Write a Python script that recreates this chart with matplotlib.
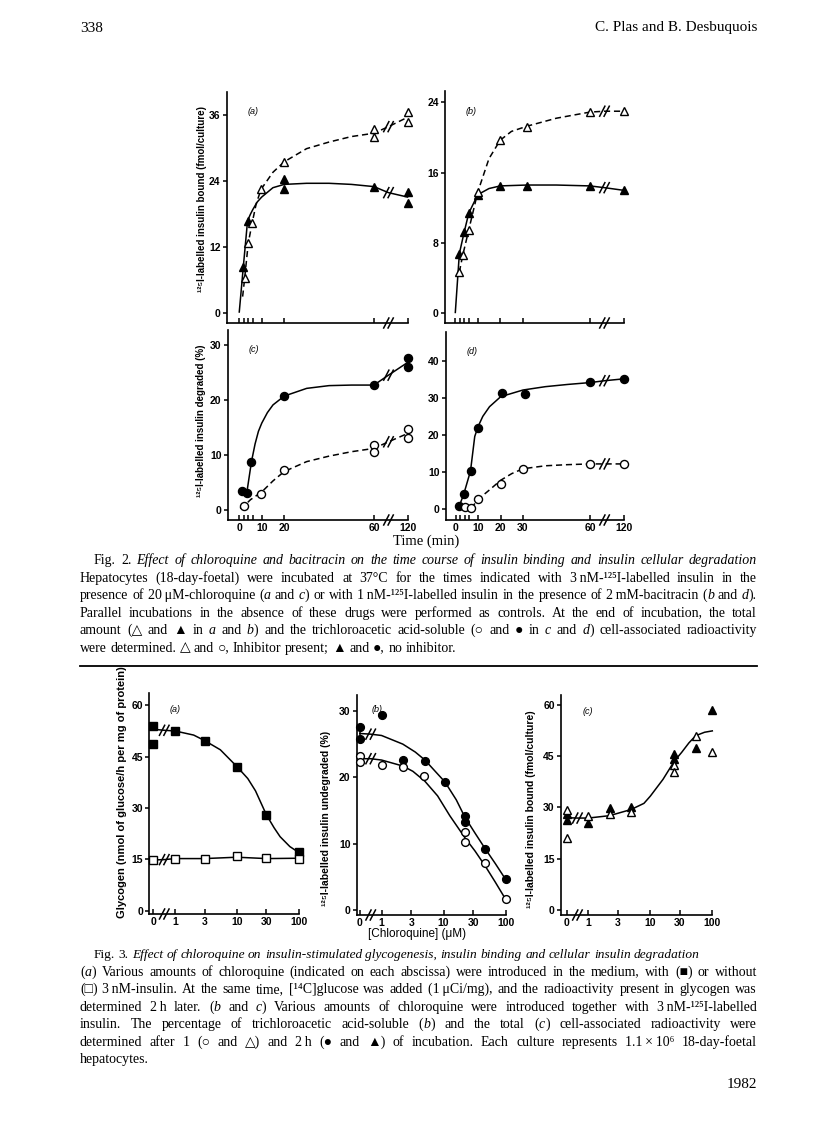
import numpy as np
import matplotlib
matplotlib.use("Agg")
import matplotlib.pyplot as plt
from matplotlib.lines import Line2D

W, H = 816, 1136
SERIF = ['Liberation Serif', 'DejaVu Serif', 'DejaVu Sans']
SANS = ['Liberation Sans', 'DejaVu Sans']
plt.rcParams['font.family'] = SANS

# broken axes: 60-120 min squeezed into 60-75, 0-1 uM squeezed into U0-0
T120 = 75.0
U0 = -0.35
T_BRK = 86      # min, where the // sits
C_BRK = 0.5     # uM, where the // sits

#%% Fig. 2 data (time in min)
a_fill_t = [1.8, 3.7, 20, 20, 60, 120, 120]
a_fill_y = [8.4, 16.8, 24.3, 22.5, 23.0, 22.0, 20.0]
a_open_t = [2.4, 4.0, 5.7, 9.7, 20, 60, 60, 120, 120]
a_open_y = [6.3, 12.7, 16.3, 22.5, 27.5, 33.5, 32.0, 36.6, 34.7]
a_solid_t = [0, 1.8, 3.7, 5, 6, 8, 10, 15, 20, 30, 40, 50, 60, 86, 120]
a_solid_y = [0.2, 8.4, 16.8, 18.0, 18.8, 20.2, 21.1, 22.8, 23.4, 23.6, 23.6, 23.4, 23.0, 21.9, 21.1]
a_dash_t = [1.5, 2.4, 4.0, 5.7, 7.5, 9.7, 15, 20, 30, 40, 50, 60, 86, 120]
a_dash_y = [3.0, 6.3, 12.7, 16.3, 19.8, 22.5, 25.6, 27.5, 29.9, 31.1, 32.1, 32.7, 33.9, 35.6]

b_fill_t = [1.8, 4, 6, 10, 20, 32, 60, 120]
b_fill_y = [6.8, 9.3, 11.4, 13.5, 14.5, 14.5, 14.5, 14.0]
b_open_t = [1.8, 3.3, 6, 10, 20, 32, 60, 120]
b_open_y = [4.7, 6.6, 9.5, 13.8, 19.7, 21.2, 22.9, 23.0]
b_solid_t = [0, 1.8, 4, 6, 10, 15, 20, 32, 45, 60, 86, 120]
b_solid_y = [0.1, 6.8, 9.3, 11.4, 13.5, 14.2, 14.5, 14.6, 14.6, 14.5, 14.3, 14.0]
b_dash_t = [1.8, 3.3, 6, 10, 15, 20, 25, 32, 45, 60, 86, 120]
b_dash_y = [4.7, 6.6, 9.5, 13.8, 17.6, 19.7, 20.7, 21.3, 22.2, 22.9, 23.0, 23.0]

c_fill_t = [1.3, 3.3, 5.4, 20, 60, 120, 120]
c_fill_y = [3.5, 3.1, 8.8, 20.7, 22.7, 27.7, 25.9]
c_open_t = [2.2, 9.7, 20, 60, 60, 120, 120]
c_open_y = [0.8, 3.0, 7.2, 11.9, 10.5, 14.7, 13.0]
c_solid_t = [1.3, 3.3, 5.4, 7, 8.5, 10, 12.5, 15, 20, 30, 40, 50, 60, 86, 120]
c_solid_y = [3.5, 3.1, 8.8, 12.0, 14.3, 15.8, 17.7, 19.1, 20.7, 22.1, 22.6, 22.7, 22.7, 24.5, 26.8]
c_dash_t = [0.3, 2.2, 5, 10, 15, 20, 30, 40, 50, 60, 86, 120]
c_dash_y = [0.3, 0.8, 1.9, 3.3, 5.3, 7.0, 8.8, 9.8, 10.6, 11.2, 12.4, 13.9]

d_fill_t = [1.5, 3.5, 6.5, 10, 20.5, 31, 60, 120]
d_fill_y = [0.9, 4.1, 10.3, 21.8, 31.2, 30.9, 34.3, 35.1]
d_open_t = [4, 6.5, 10, 20, 30, 60, 120]
d_open_y = [0.5, 0.3, 2.7, 6.8, 10.9, 12.2, 12.2]
d_solid_t = [1.5, 3.5, 6.5, 8.4, 10, 12, 15, 20, 30, 40, 50, 60, 86, 120]
d_solid_y = [0.9, 4.1, 10.3, 19.6, 22.4, 25.0, 27.6, 30.3, 32.1, 33.0, 33.6, 34.1, 34.6, 35.1]
d_dash_t = [6.5, 8, 10, 15, 20, 25, 30, 40, 50, 60, 86, 120]
d_dash_y = [0.4, 1.2, 2.7, 5.2, 7.8, 9.6, 10.9, 11.7, 12.0, 12.2, 12.2, 12.2]

#%% Fig. 3 data (chloroquine in uM)
fa_fill_c = [0, 0, 1, 3, 10, 30, 100]
fa_fill_y = [54.1, 48.7, 52.5, 49.7, 42.1, 28.0, 17.2]
fa_open_c = [0, 1, 3, 10, 30, 100]
fa_open_y = [14.8, 15.2, 15.2, 16.1, 15.3, 15.2]
fa_fcurve_c = [0, 0.5, 1, 2, 3, 5.4, 10, 15, 20, 30, 40, 50, 72, 100]
fa_fcurve_y = [53.0, 52.7, 52.5, 51.3, 49.7, 47.0, 42.1, 38.6, 35.0, 28.0, 24.2, 21.6, 18.7, 17.0]
fa_ocurve_c = [0, 0.5, 1, 3, 10, 30, 100]
fa_ocurve_y = [14.8, 14.9, 15.2, 15.2, 15.6, 15.2, 15.3]

fb_fill_c = [0, 0, 1, 2.2, 5, 10.5, 22, 22, 47, 100]
fb_fill_y = [27.65, 25.75, 29.35, 22.6, 22.5, 19.35, 14.15, 13.2, 9.25, 4.65]
fb_open_c = [0, 0, 1, 2.2, 4.8, 22, 22, 47, 100]
fb_open_y = [23.25, 22.35, 21.9, 21.6, 20.25, 11.8, 10.25, 7.15, 1.6]
fb_fcurve_c = [0, 0.5, 1, 2.2, 3.5, 5, 7, 10.5, 16, 22, 32, 47, 68, 100]
fb_fcurve_y = [26.6, 26.5, 26.3, 25.0, 23.8, 22.6, 21.1, 19.3, 16.6, 14.0, 11.6, 9.2, 7.0, 4.6]
fb_ocurve_c = [0, 0.5, 1, 2.2, 3.2, 5, 8, 12.6, 22, 32, 47, 68, 100]
fb_ocurve_y = [22.8, 22.8, 22.6, 21.7, 20.9, 19.4, 17.2, 14.2, 10.9, 8.9, 6.6, 4.2, 1.6]

fc_fill_c = [0, 0, 1, 2.2, 4.9, 24, 24, 54, 100]
fc_fill_y = [28.2, 26.2, 25.5, 29.7, 30.1, 45.6, 44.3, 47.5, 58.6]
fc_open_c = [0, 0, 1, 2.2, 4.9, 24, 24, 54, 100]
fc_open_y = [29.2, 21.0, 27.5, 28.2, 28.6, 42.3, 40.5, 51.0, 46.3]
fc_curve_c = [0, 0.5, 1, 2.2, 4.9, 7.9, 10, 16, 24.5, 32, 42, 54, 75, 100]
fc_curve_y = [27.0, 26.9, 26.9, 27.6, 29.4, 31.2, 33.3, 38.2, 43.6, 46.1, 48.9, 51.0, 52.0, 52.4]

time_ticks_ac = [0, 2, 4, 6, 10, 20, 60, 120]
time_ticks_bd = [0, 2, 4, 6, 10, 20, 30, 60, 120]
time_labels_ac = ['0', '', '', '', '10', '20', '60', '120']
time_labels_bd = ['0', '', '', '', '10', '20', '30', '60', '120']
conc_ticks = [0, 1, 3, 10, 30, 100]
conc_labels = ['0', '1', '3', '10', '30', '100']

#%% captions
cap2 = [
    [("Fig. 2. ", 0), ("Effect of chloroquine and bacitracin on the time course of insulin binding and insulin cellular degradation", 1)],
    [("Hepatocytes (18-day-foetal) were incubated at 37\u00b0C for the times indicated with 3\u2009nM-\u00b9\u00b2\u2075I-labelled insulin in the", 0)],
    [("presence of 20\u2009\u03bcM-chloroquine (", 0), ("a", 1), (" and ", 0), ("c", 1),
     (") or with 1\u2009nM-\u00b9\u00b2\u2075I-labelled insulin in the presence of 2\u2009mM-bacitracin (", 0),
     ("b", 1), (" and ", 0), ("d", 1), (").", 0)],
    [("Parallel incubations in the absence of these drugs were performed as controls. At the end of incubation, the total", 0)],
    [("amount (\u25b3 and \u25b2 in ", 0), ("a", 1), (" and ", 0), ("b", 1),
     (") and the trichloroacetic acid-soluble (\u25cb and \u25cf in ", 0), ("c", 1), (" and ", 0), ("d", 1),
     (") cell-associated radioactivity", 0)],
    [("were determined. \u25b3 and \u25cb, Inhibitor present; \u25b2 and \u25cf, no inhibitor.", 0)],
]
cap3 = [
    [("Fig. 3. ", 0), ("Effect of chloroquine on insulin-stimulated glycogenesis, insulin binding and cellular insulin degradation", 1)],
    [("(", 0), ("a", 1), (") Various amounts of chloroquine (indicated on each abscissa) were introduced in the medium, with (\u25a0) or without", 0)],
    [("(\u25a1) 3\u2009nM-insulin. At the same time, [\u00b9\u2074C]glucose was added (1\u2009\u03bcCi/mg), and the radioactivity present in glycogen was", 0)],
    [("determined 2\u2009h later. (", 0), ("b", 1), (" and ", 0), ("c", 1),
     (") Various amounts of chloroquine were introduced together with 3\u2009nM-\u00b9\u00b2\u2075I-labelled", 0)],
    [("insulin. The percentage of trichloroacetic acid-soluble (", 0), ("b", 1), (") and the total (", 0), ("c", 1),
     (") cell-associated radioactivity were", 0)],
    [("determined after 1 (\u25cb and \u25b3) and 2\u2009h (\u25cf and \u25b2) of incubation. Each culture represents 1.1\u2009\u00d7\u200910\u2076 18-day-foetal", 0)],
    [("hepatocytes.", 0)],
]


def tpos(t):
    t = np.asarray(t, dtype=float)
    return np.where(t > 60, 60 + (t - 60) * (T120 - 60) / 60, t)


def cpos(c):
    c = np.asarray(c, dtype=float)
    return np.where(c >= 1, np.log10(np.maximum(c, 1)), U0 * (1 - c))


fig = plt.figure(figsize=(W / 100, H / 100), dpi=100)
renderer = fig.canvas.get_renderer()


def ftext(x, y, s, **kw):
    return fig.text(x / W, 1 - y / H, s, **kw)


def make_ax(left, top, right, bottom, xlim, ylim):
    ax = fig.add_axes([left / W, 1 - bottom / H, (right - left) / W, (bottom - top) / H])
    ax.set_xlim(*xlim)
    ax.set_ylim(*ylim)
    ax.spines['top'].set_visible(False)
    ax.spines['right'].set_visible(False)
    ax.spines['left'].set_linewidth(1.2)
    ax.spines['bottom'].set_linewidth(1.2)
    ax.patch.set_alpha(0)
    ax.tick_params(axis='x', direction='in', length=3.5, width=1.1, pad=2.5, labelsize=7.5)
    ax.tick_params(axis='y', direction='out', length=3, width=1.1, pad=1.5, labelsize=7.5)
    return ax


def brk(ax, x, y, h=5.0):
    # two slanted strokes in pixel space around a data point
    px, py = ax.transData.transform((x, y))
    inv = fig.transFigure.inverted()
    for dx in (-2.2, 2.2):
        p0 = inv.transform((px + dx - 2.6, py - h))
        p1 = inv.transform((px + dx + 2.6, py + h))
        fig.add_artist(Line2D([p0[0], p1[0]], [p0[1], p1[1]], transform=fig.transFigure,
                              color='k', lw=1.1))


def curve_at(xs, ys, x0):
    return ys[list(xs).index(x0)]


DASH = (0, (4, 2.5))
LW = 1.1


def pts(ax, x, y, mk, filled, ms):
    ax.plot(x, y, mk, ms=ms, mfc='k' if filled else 'white', mec='k', mew=1.0,
            clip_on=False, zorder=3)


def bold_ticks(ax):
    for lab in ax.get_xticklabels() + ax.get_yticklabels():
        lab.set_fontweight('bold')


#%% Fig. 2 panels
panels2 = [
    (226.7, 92, 408, 323, (-5.6, 75.2), (-1.8, 40.2), [0, 12, 24, 36], time_ticks_ac, None, '^',
     (a_fill_t, a_fill_y), (a_open_t, a_open_y), (a_solid_t, a_solid_y), (a_dash_t, a_dash_y), '(a)'),
    (445, 91, 624, 323, (-4.6, 75.2), (-1.1, 25.3), [0, 8, 16, 24], time_ticks_bd, None, '^',
     (b_fill_t, b_fill_y), (b_open_t, b_open_y), (b_solid_t, b_solid_y), (b_dash_t, b_dash_y), '(b)'),
    (227.7, 330, 408, 520, (-5.2, 75.2), (-1.8, 32.7), [0, 10, 20, 30], time_ticks_ac, time_labels_ac, 'o',
     (c_fill_t, c_fill_y), (c_open_t, c_open_y), (c_solid_t, c_solid_y), (c_dash_t, c_dash_y), '(c)'),
    (445.7, 331.7, 624, 520, (-4.6, 75.2), (-2.9, 47.8), [0, 10, 20, 30, 40], time_ticks_bd, time_labels_bd, 'o',
     (d_fill_t, d_fill_y), (d_open_t, d_open_y), (d_solid_t, d_solid_y), (d_dash_t, d_dash_y), '(d)'),
]

for (l, t, r, b, xl, yl, yt, xt, xlab, mk, fill, opn, sol, dsh, tag) in panels2:
    ax = make_ax(l, t, r, b, xl, yl)
    ax.set_yticks(yt)
    ax.set_xticks(tpos(xt))
    ax.set_xticklabels(xlab if xlab else [''] * len(xt))
    bold_ticks(ax)
    ax.plot(tpos(sol[0]), sol[1], '-', color='k', lw=LW, clip_on=False, zorder=2)
    ax.plot(tpos(dsh[0]), dsh[1], color='k', lw=LW, ls=DASH, clip_on=False, zorder=2)
    ms = 6.0 if mk == '^' else 5.8
    pts(ax, tpos(fill[0]), fill[1], mk, True, ms)
    pts(ax, tpos(opn[0]), opn[1], mk, False, ms)
    brk(ax, float(tpos(T_BRK)), curve_at(sol[0], sol[1], T_BRK))
    brk(ax, float(tpos(T_BRK)), curve_at(dsh[0], dsh[1], T_BRK))
    brk(ax, float(tpos(T_BRK)), yl[0])
    ftext(l + 21, t + 20, tag, fontsize=6.5, style='italic', va='center', ha='left')

ftext(201.7, 199, "\u00b9\u00b2\u2075I-labelled insulin bound (fmol/culture)", rotation=90,
      fontsize=7, fontweight='bold', ha='center', va='center')
ftext(200.7, 421, "\u00b9\u00b2\u2075I-labelled insulin degraded (%)", rotation=90,
      fontsize=7, fontweight='bold', ha='center', va='center')
ftext(426, 541.5, "Time (min)", family=SERIF, fontsize=10.5, ha='center', va='center')

#%% Fig. 3 panels
ax = make_ax(149.3, 693, 298.7, 914, (-0.417, 2.0), (-1.0, 63.6))
ax.set_yticks([0, 15, 30, 45, 60])
ax.plot(cpos(fa_fcurve_c), fa_fcurve_y, '-', color='k', lw=LW, clip_on=False)
ax.plot(cpos(fa_ocurve_c), fa_ocurve_y, '-', color='k', lw=LW, clip_on=False)
pts(ax, cpos(fa_fill_c), fa_fill_y, 's', True, 5.6)
pts(ax, cpos(fa_open_c), fa_open_y, 's', False, 5.6)
fig3_axes = [(ax, [(fa_fcurve_c, fa_fcurve_y), (fa_ocurve_c, fa_ocurve_y)])]
ftext(170, 709, '(a)', fontsize=6.5, style='italic', va='center', ha='left')

ax = make_ax(356.7, 695, 505.7, 915, (-0.40, 2.0), (-0.75, 32.4))
ax.set_yticks([0, 10, 20, 30])
ax.plot(cpos(fb_fcurve_c), fb_fcurve_y, '-', color='k', lw=LW, clip_on=False)
ax.plot(cpos(fb_ocurve_c), fb_ocurve_y, '-', color='k', lw=LW, clip_on=False)
for cc, yy in ((fb_fill_c, fb_fill_y), (fb_open_c, fb_open_y)):
    y0 = [v for c, v in zip(cc, yy) if c == 0]
    ax.plot(cpos([0, 0]), [min(y0), max(y0)], '-', color='k', lw=LW)
pts(ax, cpos(fb_fill_c), fb_fill_y, 'o', True, 5.6)
pts(ax, cpos(fb_open_c), fb_open_y, 'o', False, 5.6)
fig3_axes.append((ax, [(fb_fcurve_c, fb_fcurve_y), (fb_ocurve_c, fb_ocurve_y)]))
ftext(372, 709, '(b)', fontsize=6.5, style='italic', va='center', ha='left')

ax = make_ax(561, 695, 712.3, 915, (-0.44, 2.0), (-1.46, 62.9))
ax.set_yticks([0, 15, 30, 45, 60])
ax.plot(cpos(fc_curve_c), fc_curve_y, '-', color='k', lw=LW, clip_on=False)
y0 = [v for c, v in zip(fc_fill_c, fc_fill_y) if c == 0]
ax.plot(cpos([0, 0]), [min(y0), max(y0)], '-', color='k', lw=LW)
pts(ax, cpos(fc_fill_c), fc_fill_y, '^', True, 5.2)
pts(ax, cpos(fc_open_c), fc_open_y, '^', False, 5.2)
fig3_axes.append((ax, [(fc_curve_c, fc_curve_y)]))
ftext(583, 711, '(c)', fontsize=6.5, style='italic', va='center', ha='left')

for ax, curves in fig3_axes:
    ax.set_xticks(cpos(conc_ticks))
    ax.set_xticklabels(conc_labels)
    bold_ticks(ax)
    for cc, yy in curves:
        brk(ax, float(cpos(C_BRK)), curve_at(cc, yy, C_BRK))
    brk(ax, float(cpos(C_BRK)), ax.get_ylim()[0])

ftext(122, 792, "Glycogen (nmol of glucose/h per mg of protein)", rotation=90,
      fontsize=8, fontweight='bold', ha='center', va='center')
ftext(326, 818, "\u00b9\u00b2\u2075I-labelled insulin undegraded (%)", rotation=90,
      fontsize=7.5, fontweight='bold', ha='center', va='center')
ftext(531, 809, "\u00b9\u00b2\u2075I-labelled insulin bound (fmol/culture)", rotation=90,
      fontsize=7.5, fontweight='bold', ha='center', va='center')
ftext(416.7, 934, "[Chloroquine] (\u03bcM)", fontsize=8.5, ha='center', va='center')

#%% page text
LM, RM = 80, 757
CAP_FS = 10.0


def words_of(chunks):
    words = [[]]
    for txt, it in chunks:
        parts = txt.split(' ')
        for k, p in enumerate(parts):
            if k > 0:
                words.append([])
            if p:
                words[-1].append((p, it))
    return [w for w in words if w]


def text_line(y, chunks, x0=LM, x1=RM, justify=True, size=CAP_FS):
    # y is the line's middle; words sit on a shared baseline
    words = words_of(chunks)
    base = y + size * 100 / 72 * 0.3
    placed = []
    widths = []
    for w in words:
        segs = []
        tot = 0
        for s, it in w:
            t = ftext(0, base, s, family=SERIF, fontsize=size, style='italic' if it else 'normal',
                      ha='left', va='baseline')
            ww = t.get_window_extent(renderer).width
            segs.append((t, ww))
            tot += ww
        placed.append(segs)
        widths.append(tot)
    gap = size * 100 / 72 * 0.25
    if justify and len(words) > 1:
        gap = (x1 - x0 - sum(widths)) / (len(words) - 1)
    x = x0
    for segs, tot in zip(placed, widths):
        xx = x
        for t, ww in segs:
            t.set_x(xx / W)
            xx += ww
        x += tot + gap


LS = 17.5
y = 560
for i, line in enumerate(cap2):
    text_line(y, line, x0=LM + 14 if i == 0 else LM, justify=(i < len(cap2) - 1))
    y += LS

fig.add_artist(Line2D([LM / W, RM / W], [1 - 666 / H] * 2, transform=fig.transFigure, color='k', lw=1.3))

y = 954
for i, line in enumerate(cap3):
    text_line(y, line, x0=LM + 14 if i == 0 else LM, justify=(0 < i < len(cap3) - 1),
              size=9.6 if i == 0 else CAP_FS)
    y += LS

ftext(LM, 28, "338", family=SERIF, fontsize=11, ha='left', va='center')
ftext(RM, 28, "C. Plas and B. Desbuquois", family=SERIF, fontsize=11, ha='right', va='center')
ftext(RM, 1084, "1982", family=SERIF, fontsize=11, ha='right', va='center')

fig.savefig("out.png", dpi=100)
